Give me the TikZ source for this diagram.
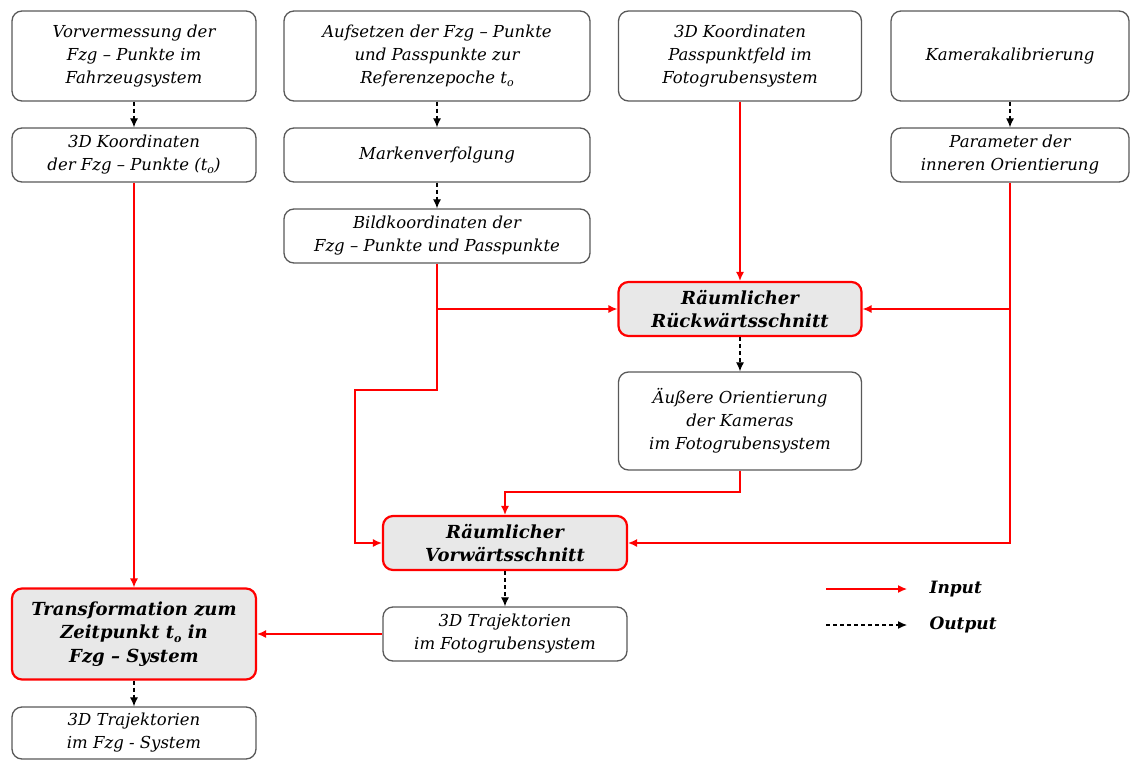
\documentclass[tikz,border=0pt]{standalone}
\usepackage{fontspec}
\setmainfont{DejaVu Serif}
\usetikzlibrary{arrows.meta}
\begin{document}
\begin{tikzpicture}[x=1pt,y=-1pt,
  box/.style={draw=black!65, line width=1.3pt, rounded corners=10pt, fill=white,
    align=center, inner sep=0pt, font=\itshape\fontsize{16.5}{23}\selectfont},
  keybox/.style={draw=red, line width=2.2pt, rounded corners=10pt, fill=black!9,
    align=center, inner sep=0pt, font=\bfseries\itshape\fontsize{18}{23.5}\selectfont},
  inarrow/.style={draw=red, line width=1.3pt, -{Latex[length=9pt,width=8pt]}},
  inline/.style={draw=red, line width=1.3pt},
  outarrow/.style={draw=black, line width=1.2pt, dash pattern=on 4pt off 3pt,
    -{Latex[length=9pt,width=8pt]}},
  legtext/.style={anchor=west, font=\bfseries\itshape\fontsize{17}{20}\selectfont}]
\useasboundingbox (0,0) rectangle (1132,760);
\newcommand{\tsub}{t\raisebox{-0.35ex}{\fontsize{11}{11}\selectfont o}}

% boxes of the first column
\node[box, minimum width=244pt, minimum height=90pt] (A1) at (134,56)
  {Vorvermessung der\\Fzg -- Punkte im\\Fahrzeugsystem};
\node[box, minimum width=244pt, minimum height=54pt] (A2) at (134,155)
  {3D Koordinaten\\der Fzg -- Punkte (\tsub)};
\node[keybox, minimum width=244pt, minimum height=91pt] (T) at (134,634)
  {Transformation zum\\Zeitpunkt \tsub{} in\\Fzg -- System};
\node[box, minimum width=244pt, minimum height=52pt] (T4) at (134,733)
  {3D Trajektorien\\im Fzg - System};

% boxes of the second column
\node[box, minimum width=306pt, minimum height=90pt] (B1) at (437,56)
  {Aufsetzen der Fzg -- Punkte\\und Passpunkte zur\\Referenzepoche \tsub};
\node[box, minimum width=306pt, minimum height=54pt] (B2) at (437,155)
  {Markenverfolgung};
\node[box, minimum width=306pt, minimum height=54pt] (B3) at (437,236)
  {Bildkoordinaten der\\Fzg -- Punkte und Passpunkte};

% boxes of the third column
\node[box, minimum width=243pt, minimum height=90pt] (C1) at (740,56)
  {3D Koordinaten\\Passpunktfeld im\\Fotogrubensystem};
\node[keybox, minimum width=243pt, minimum height=54pt] (R) at (740,309)
  {Räumlicher\\Rückwärtsschnitt};
\node[box, minimum width=243pt, minimum height=98pt] (E) at (740,421)
  {Äußere Orientierung\\der Kameras\\im Fotogrubensystem};
\node[keybox, minimum width=244pt, minimum height=54pt] (V) at (505,543)
  {Räumlicher\\Vorwärtsschnitt};
\node[box, minimum width=244pt, minimum height=54pt] (T3) at (505,634)
  {3D Trajektorien\\im Fotogrubensystem};

% boxes of the fourth column
\node[box, minimum width=238pt, minimum height=90pt] (D1) at (1010,56)
  {Kamerakalibrierung};
\node[box, minimum width=238pt, minimum height=54pt] (D2) at (1010,155)
  {Parameter der\\inneren Orientierung};

% outputs
\draw[outarrow] (A1.south) -- (A2.north);
\draw[outarrow] (B1.south) -- (B2.north);
\draw[outarrow] (B2.south) -- (B3.north);
\draw[outarrow] (D1.south) -- (D2.north);
\draw[outarrow] (R.south) -- (E.north);
\draw[outarrow] (V.south) -- (T3.north);
\draw[outarrow] (T.south) -- (T4.north);

% inputs
\draw[inarrow] (C1.south) -- (R.north);
\coordinate (jB) at (B3.south |- R.west);
\coordinate (kB) at (437,390);
\coordinate (kL) at (355,390);
\draw[inline] (B3.south) -- (jB);
\draw[inarrow] (jB) -- (R.west);
\draw[inarrow] (jB) -- (kB) -- (kL) |- (V.west);
\coordinate (jD) at (D2.south |- R.east);
\draw[inline] (D2.south) -- (jD);
\draw[inarrow] (jD) -- (R.east);
\draw[inarrow] (jD) |- (V.east);
\coordinate (eV) at (740,492);
\draw[inarrow] (E.south) -- (eV) -| (V.north);
\draw[inarrow] (T3.west) -- (T.east);
\draw[inarrow] (A2.south) -- (T.north);

% legend
\coordinate (li1) at (826,589);
\coordinate (li2) at (907,589);
\coordinate (lo1) at (826,625);
\coordinate (lo2) at (907,625);
\draw[inarrow] (li1) -- (li2);
\draw[outarrow] (lo1) -- (lo2);
\node[legtext] (lin) at (926,589) {Input};
\node[legtext] (lout) at (926,625) {Output};
\end{tikzpicture}
\end{document}
